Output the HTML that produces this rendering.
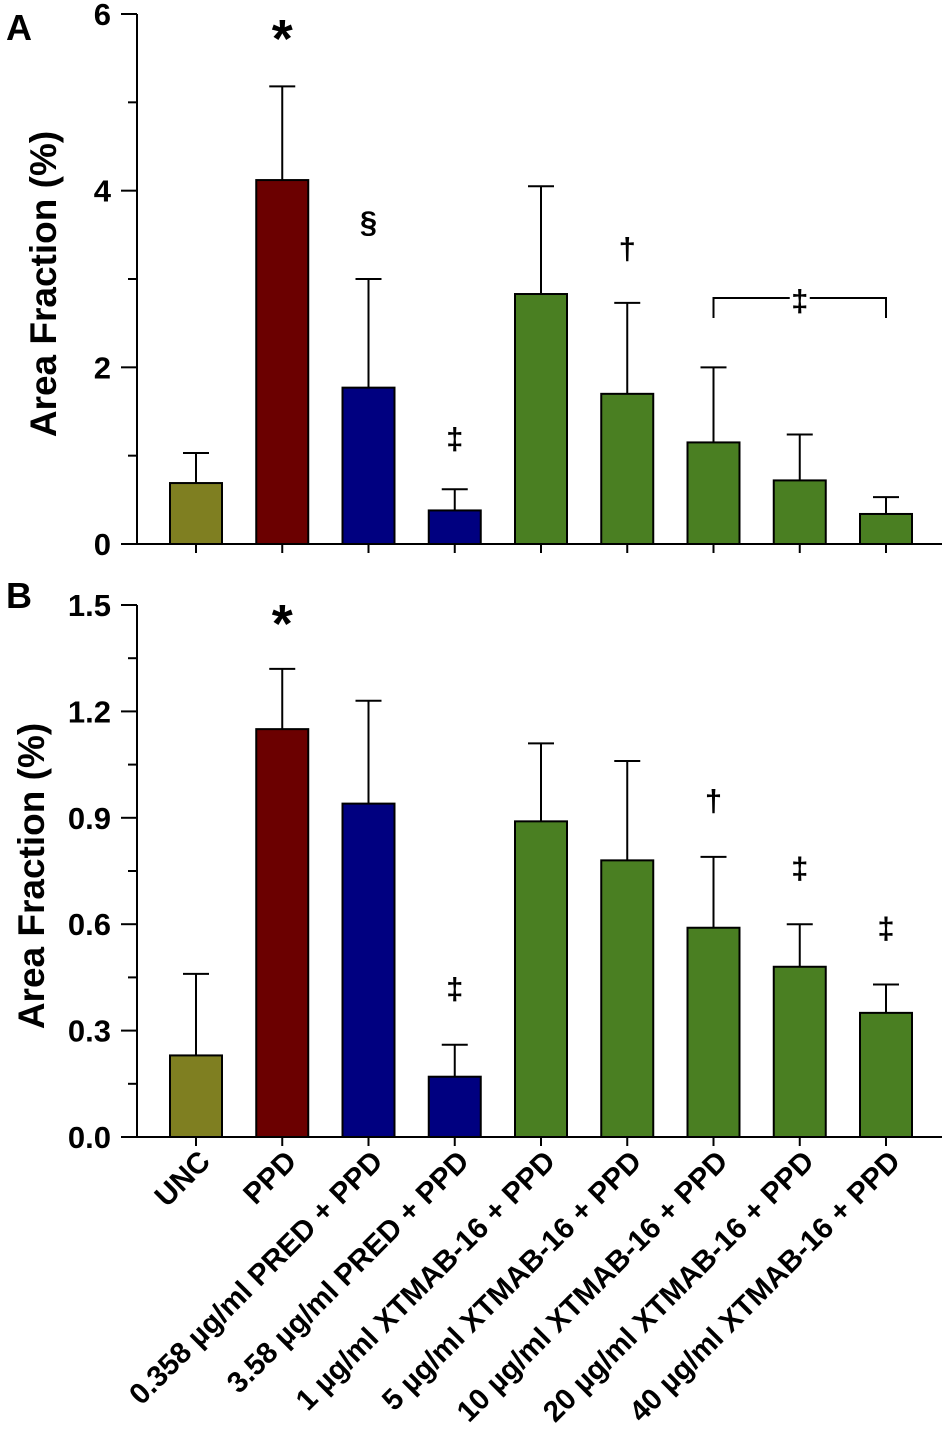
<!DOCTYPE html>
<html><head><meta charset="utf-8"><style>
body{margin:0;background:#fff;}
svg{display:block;font-family:"Liberation Sans",Arial,sans-serif;font-weight:bold;}
</style></head><body>
<svg id="fig" width="952" height="1430" viewBox="0 0 952 1430" xmlns="http://www.w3.org/2000/svg"></svg>
<script>
const categories=["UNC","PPD","0.358 µg/ml PRED + PPD","3.58 µg/ml PRED + PPD","1 µg/ml XTMAB-16 + PPD","5 µg/ml XTMAB-16 + PPD","10 µg/ml XTMAB-16 + PPD","20 µg/ml XTMAB-16 + PPD","40 µg/ml XTMAB-16 + PPD"];
const colors=["#7f7f21","#6b0000","#000080","#000080","#4a7f22","#4a7f22","#4a7f22","#4a7f22","#4a7f22"];
const valuesA=[0.69,4.12,1.77,0.38,2.83,1.70,1.15,0.72,0.34];
const errTopA=[1.03,5.18,3.00,0.62,4.05,2.73,2.00,1.24,0.53];
const valuesB=[0.23,1.15,0.94,0.17,0.89,0.78,0.59,0.48,0.35];
const errTopB=[0.46,1.32,1.23,0.26,1.11,1.06,0.79,0.60,0.43];
const ticksA=[0,2,4,6];const minorA=[1,3,5];
const ticksB=[0,0.3,0.6,0.9,1.2,1.5];const minorB=[0.15,0.45,0.75,1.05,1.35];
const annotA=[{i:1,t:"*",y:5.83},{i:2,t:"§",y:3.65},{i:3,t:"‡",y:1.2},{i:5,t:"†",y:3.35}];
const annotB=[{i:1,t:"*",y:1.475},{i:3,t:"‡",y:0.42},{i:6,t:"†",y:0.95},{i:7,t:"‡",y:0.76},{i:8,t:"‡",y:0.59}];

const svg=document.getElementById('fig');const NS="http://www.w3.org/2000/svg";
function mk(tag,attrs,name,parent){const e=document.createElementNS(NS,tag);for(const k in attrs)e.setAttribute(k,attrs[k]);


(parent||svg).appendChild(e);return e;}
const xAxisL=137,xAxisR=942;
function xc(i){return 196+i*86.25;}
function panel(p){
  const g=mk('g',{},'panel-'+p.id);
  const y=v=>p.y0-(v/p.max)*(p.y0-p.yTop);
  mk('text',{x:6,y:p.labelY,'font-size':36,fill:'#000'},'panel-label-'+p.id,g).textContent=p.id;
  p.vals.forEach((v,i)=>{
    const cx=xc(i);
    mk('line',{x1:cx,x2:cx,y1:y(v),y2:y(p.err[i]),stroke:'#000','stroke-width':2},'error-bar-'+p.id+'-'+i,g);
    mk('line',{x1:cx-13,x2:cx+13,y1:y(p.err[i]),y2:y(p.err[i]),stroke:'#000','stroke-width':2},'error-cap-'+p.id+'-'+i,g);
    mk('rect',{x:cx-26,y:y(v),width:52,height:p.y0-y(v),fill:colors[i],stroke:'#000','stroke-width':2},'bar-'+p.id+'-'+i,g);
    mk('line',{x1:cx,x2:cx,y1:p.y0,y2:p.y0+9,stroke:'#000','stroke-width':2},'x-tick-'+p.id+'-'+i,g);
  });
  mk('line',{x1:xAxisL,x2:xAxisL,y1:p.yTop,y2:p.y0,stroke:'#000','stroke-width':2},'y-axis-'+p.id,g);
  mk('line',{x1:xAxisL-16,x2:xAxisR,y1:p.y0,y2:p.y0,stroke:'#000','stroke-width':2},'x-axis-'+p.id,g);
  p.ticks.forEach(t=>{
    mk('line',{x1:xAxisL-16,x2:xAxisL,y1:y(t),y2:y(t),stroke:'#000','stroke-width':2},'y-tick-'+p.id,g);
    mk('text',{x:xAxisL-26,y:y(t)+11,'text-anchor':'end','font-size':31},'y-tick-label-'+p.id,g).textContent=p.fmt(t);
  });
  p.minor.forEach(t=>mk('line',{x1:xAxisL-9,x2:xAxisL,y1:y(t),y2:y(t),stroke:'#000','stroke-width':2},'y-minor-tick-'+p.id,g));
  const my=(p.yTop+p.y0)/2+5;
  mk('text',{x:0,y:0,transform:`translate(${p.titleX},${my}) rotate(-90)`,'text-anchor':'middle','font-size':37},'y-axis-title-'+p.id,g).textContent="Area Fraction (%)";
  p.annot.forEach(a=>{
    const big=a.t==="*";
    mk('text',{x:xc(a.i),y:y(a.y)+(big?28:11),'text-anchor':'middle','font-size':big?54:31},'significance-mark-'+p.id,g).textContent=a.t;
  });
  return y;
}
panel({id:"A",y0:544,yTop:14,max:6,labelY:40,titleX:56,vals:valuesA,err:errTopA,ticks:ticksA,minor:minorA,fmt:t=>String(t),annot:annotA});
panel({id:"B",y0:1137,yTop:605,max:1.5,labelY:608,titleX:44,vals:valuesB,err:errTopB,ticks:ticksB,minor:minorB,fmt:t=>t.toFixed(1),annot:annotB});
const by=298;
mk('path',{d:`M${xc(6)} ${by+20} V${by} H${xc(8)} V${by+20}`,fill:'none',stroke:'#000','stroke-width':2},'significance-bracket');
mk('rect',{x:xc(7)-10,y:by-3,width:20,height:6,fill:'#fff'},'bracket-gap');
mk('text',{x:xc(7),y:by+13,'text-anchor':'middle','font-size':31,fill:'#000'},'bracket-mark').textContent="‡";
categories.forEach((c,i)=>{
  const t=mk('text',{x:0,y:0,transform:`translate(${xc(i)+16},1163) rotate(-45)`,'text-anchor':'end','font-size':29.5},'x-label-'+i);
  t.textContent=c;
});
</script>
</body></html>
